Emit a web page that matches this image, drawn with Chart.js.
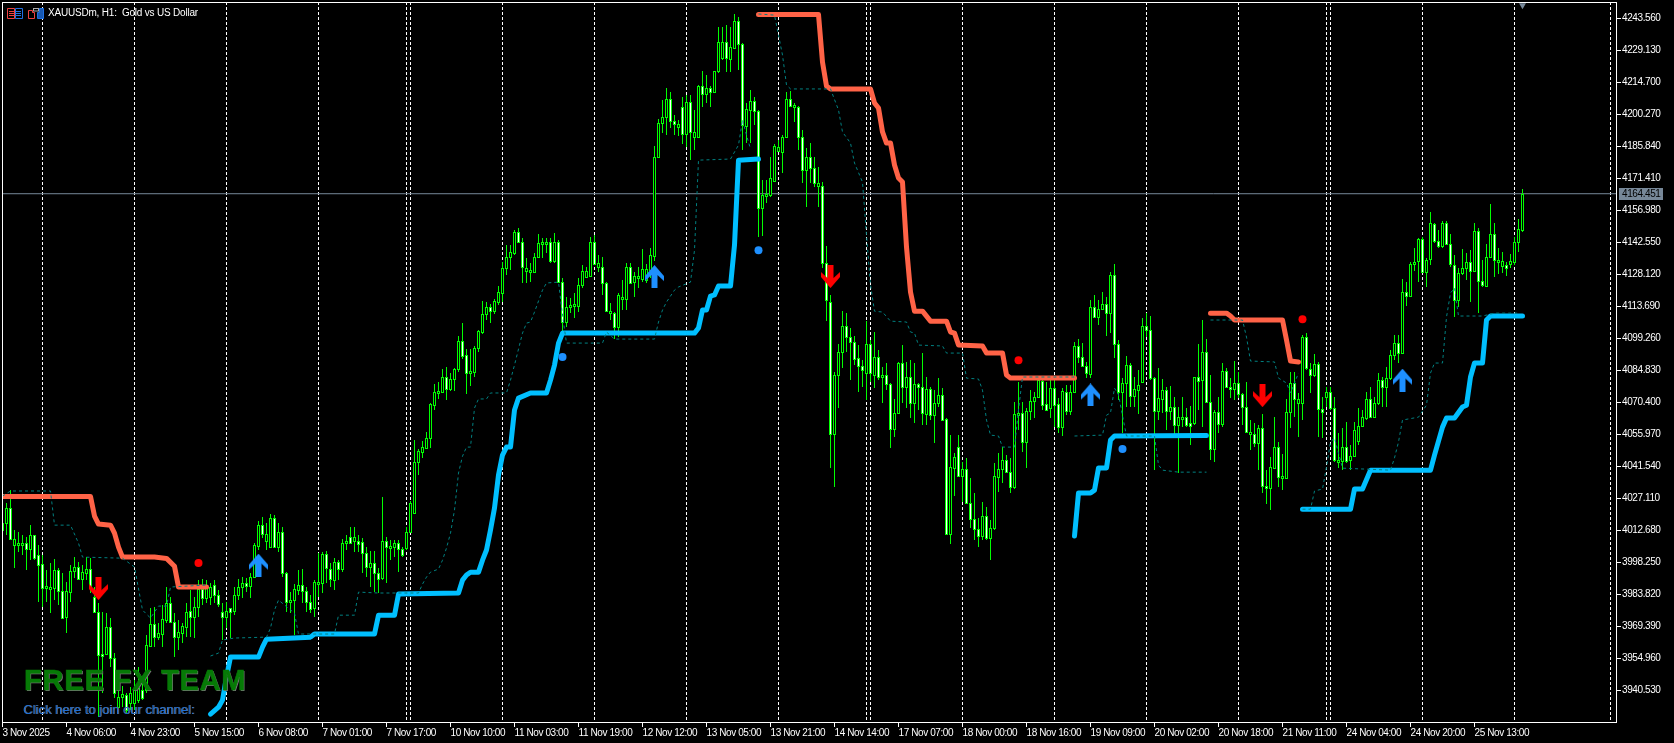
<!DOCTYPE html>
<html>
<head>
<meta charset="utf-8">
<title>XAUUSDm, H1: Gold vs US Dollar</title>
<script src="https://cdn.jsdelivr.net/npm/chart.js@4/dist/chart.umd.min.js"></script>
<style>
    html, body { margin: 0; padding: 0; background: #000; overflow: hidden; }
    #wrap { position: relative; width: 1674px; height: 743px; }
    #chart { position: absolute; left: 0; top: 0; }
    .icon { position: absolute; top: 8px; }
    #title { position: absolute; left: 48px; top: 7px; color: #fff; font: 10px "Liberation Sans", sans-serif; letter-spacing: -0.2px; white-space: pre; }
    #brand { position: absolute; left: 24px; top: 664px; color: #067a06; font: bold 29px "Liberation Sans", sans-serif; letter-spacing: 0.8px; white-space: pre; text-shadow: 1px 1px 0 #777; -webkit-text-stroke: 0.6px #067a06; }
    #link { position: absolute; left: 23px; top: 702px; color: #1e6fd6; font: 13px "Liberation Sans", sans-serif; white-space: pre; text-shadow: 1px 0 0 #666; }
</style>
</head>
<body>
<div id="wrap">
    <canvas id="chart" width="1674" height="743"></canvas>
    <svg class="icon" style="left:7px" width="16" height="11" fill="none">
        <path d="M.5.5h7v10h-7zM2 3.5h5M2 5.5h5M2 7.5h5" stroke="#f04040"/>
        <path d="M8.5.5h7v10h-7zM9 3.5h5M9 5.5h5M9 7.5h5" stroke="#2070e0"/>
    </svg>
    <svg class="icon" style="left:28px" width="16" height="11" fill="none">
        <path d="M.5 2.5h4v2h2v6h-6z" stroke="#f04040"/>
        <path d="M15.5.5v10h-6v-6h2v-4z" stroke="#2070e0" fill="#1858b0"/>
        <rect x="5.5" y=".5" width="5" height="2.5" stroke="#aaa"/>
    </svg>
    <div id="title">XAUUSDm, H1:  Gold vs US Dollar</div>
    <div id="brand">FREE FX TEAM</div>
    <div id="link">Click here to join our channel:</div>
</div>

<script>
// ── Candles (bar 0 = 3 Nov 2025 00:00) ───────────────────────────────────────
const opens = [
    4012.8,4015.9,4022.7,4006.0,4006.5,4006.0,4006.9,4004.2,4010.5,4001.5,
    3997.4,3986.6,3986.6,3986.6,3994.7,3985.3,3973.5,3984.8,3994.3,3996.1,
    3990.7,3993.4,3995.2,3982.6,3975.8,3956.8,3956.8,3969.0,3955.0,3932.9,
    3937.5,3938.4,3934.7,3934.7,3936.1,3940.6,3940.6,3960.5,3970.4,3964.5,
    3965.9,3972.2,3979.8,3971.3,3964.5,3966.3,3969.0,3976.2,3973.5,3978.0,
    3986.2,3982.1,3982.6,3988.0,3983.5,3975.8,3973.5,3977.6,3976.2,3983.5,
    3987.1,3988.9,3987.5,3991.6,4005.6,4015.0,4007.8,4005.1,4018.2,4005.1,
    4011.9,3993.4,3980.3,3981.2,3985.7,3988.0,3985.3,3980.3,3977.6,3988.4,
    3988.9,4001.9,3995.2,3990.2,3998.3,3995.2,4006.9,4009.6,4007.8,4007.8,
    4007.4,4002.4,3996.1,3997.9,3993.4,3991.1,4007.8,4005.1,4005.1,4006.9,
    4004.2,4004.7,4011.9,4020.4,4043.4,4047.9,4049.8,4054.3,4069.1,4074.6,
    4075.0,4081.8,4076.4,4080.9,4085.4,4098.0,4091.7,4083.6,4084.0,4094.8,
    4102.1,4110.2,4113.3,4111.5,4115.6,4119.7,4130.9,4135.9,4137.7,4147.2,
    4142.7,4129.6,4129.1,4129.1,4135.9,4141.8,4141.8,4142.7,4134.1,4142.7,
    4124.6,4106.6,4113.3,4114.2,4113.8,4123.3,4126.9,4127.3,4142.7,4131.4,
    4131.4,4124.2,4110.6,4110.6,4104.3,4116.9,4116.9,4131.4,4124.6,4126.4,
    4126.0,4125.5,4130.0,4136.3,4181.0,4196.3,4199.0,4207.2,4197.2,4194.5,
    4203.5,4191.4,4205.8,4190.0,4190.0,4213.0,4209.4,4212.1,4210.3,4219.8,
    4225.6,4232.9,4225.2,4230.2,4242.3,4232.0,4195.0,4202.2,4206.2,4201.7,
    4158.0,4163.9,4163.9,4170.2,4183.7,4183.2,4190.0,4207.2,4203.5,4203.5,
    4190.0,4175.1,4181.0,4176.0,4167.9,4167.9,4133.2,4115.6,4056.1,4082.7,
    4093.0,4104.8,4099.8,4097.6,4090.3,4086.7,4083.6,4096.7,4082.7,4090.8,
    4081.8,4082.7,4078.6,4058.3,4065.5,4088.1,4077.3,4081.8,4070.0,4078.6,
    4077.3,4065.1,4076.4,4064.6,4070.0,4073.7,4062.8,4011.0,4040.7,4050.2,
    4037.1,4040.3,4024.9,4017.7,4013.2,4010.1,4019.1,4009.2,4013.7,4036.7,
    4040.3,4044.3,4038.9,4032.2,4065.1,4065.5,4052.5,4066.4,4071.0,4072.8,
    4080.0,4069.6,4067.8,4076.8,4069.6,4059.2,4075.0,4066.4,4075.0,4095.8,
    4090.8,4086.7,4083.1,4113.3,4108.8,4112.4,4114.7,4110.6,4127.8,4096.7,
    4075.0,4079.1,4087.2,4073.2,4075.9,4079.5,4104.8,4103.0,4081.3,4066.4,
    4071.9,4075.9,4066.4,4068.2,4060.1,4063.3,4063.7,4061.0,4061.0,4081.8,
    4080.4,4093.0,4070.5,4049.3,4066.0,4060.6,4084.5,4077.3,4076.4,4079.1,
    4074.1,4068.2,4056.5,4056.1,4052.0,4058.8,4032.6,4031.7,4040.7,4050.2,
    4036.2,4036.2,4066.0,4079.1,4070.0,4070.0,4099.8,4085.4,4082.7,4087.6,
    4067.3,4072.8,4075.0,4067.8,4043.4,4043.9,4050.2,4044.3,4046.1,4052.9,
    4059.7,4063.3,4071.9,4063.7,4070.0,4080.4,4077.3,4081.3,4091.7,4097.1,
    4092.6,4120.1,4118.3,4132.7,4134.1,4144.0,4129.1,4135.0,4150.8,4143.1,
    4140.9,4151.2,4141.8,4132.3,4116.5,4128.7,4130.9,4133.6,4129.6,4147.6,
    4125.1,4122.8,4135.9,4146.3,4134.1,4131.8,4132.3,4132.7,4133.6,4142.7,4148.1
];
const highs = [
    4019.5,4024.9,4030.8,4012.8,4011.9,4010.5,4009.6,4015.0,4010.5,4006.0,
    4001.5,3994.7,3997.9,3999.7,3995.6,3993.4,3989.3,3997.0,4000.6,3998.3,
    3997.0,4000.6,4000.1,3987.1,3979.8,3975.8,3975.3,3973.1,3957.3,3942.4,
    3942.4,3939.3,3942.0,3945.1,3951.0,3945.1,3965.4,3977.6,3978.0,3970.8,
    3978.9,3987.1,3982.6,3975.3,3972.2,3970.8,3979.8,3985.7,3982.6,3990.2,
    3990.7,3990.2,3988.9,3990.2,3985.7,3979.8,3980.3,3977.6,3987.1,3990.7,
    3991.6,3991.1,3993.4,4006.9,4016.8,4018.6,4015.9,4020.0,4019.5,4015.9,
    4014.1,3993.8,3984.8,3988.4,3994.7,3995.2,3987.1,3983.5,3990.2,4002.4,
    4002.8,4003.3,3997.9,4000.1,3999.2,4008.7,4010.5,4014.1,4014.1,4010.5,
    4009.2,4005.1,4003.3,4003.3,3995.6,4027.6,4009.6,4008.3,4008.3,4008.3,
    4005.1,4014.1,4025.8,4053.4,4049.3,4052.9,4057.0,4070.0,4078.6,4079.5,
    4085.4,4086.3,4083.6,4085.8,4100.3,4106.1,4094.4,4094.4,4095.8,4103.0,
    4116.0,4115.6,4114.7,4116.9,4122.8,4133.6,4141.3,4141.3,4148.1,4149.0,
    4144.5,4135.4,4133.2,4137.7,4146.3,4144.5,4144.5,4144.5,4146.7,4143.6,
    4126.4,4117.9,4117.4,4119.7,4126.4,4132.3,4131.4,4145.0,4145.8,4136.8,
    4135.9,4124.6,4115.1,4111.1,4119.7,4125.5,4133.2,4133.2,4129.1,4131.4,
    4139.5,4132.7,4140.0,4186.0,4198.1,4206.7,4212.1,4210.3,4199.9,4197.7,
    4208.0,4209.0,4209.0,4202.2,4213.5,4219.8,4218.0,4213.0,4219.8,4239.6,
    4239.6,4240.5,4239.6,4245.5,4244.1,4232.4,4205.3,4211.2,4208.0,4202.2,
    4170.6,4170.6,4181.0,4186.9,4188.7,4190.9,4210.3,4210.8,4205.3,4204.0,
    4193.2,4185.1,4187.3,4181.0,4176.5,4169.7,4140.9,4118.8,4084.0,4096.7,
    4111.5,4110.6,4103.9,4100.3,4096.2,4089.4,4107.0,4098.5,4102.1,4094.0,
    4086.3,4088.1,4079.1,4071.9,4088.5,4096.2,4088.5,4089.4,4088.1,4079.1,
    4092.6,4081.8,4077.3,4075.9,4081.3,4076.8,4063.3,4055.6,4047.5,4055.6,
    4043.4,4045.2,4036.2,4029.5,4018.2,4025.4,4023.1,4017.3,4043.0,4047.5,
    4050.2,4046.6,4045.2,4070.5,4079.5,4070.5,4067.8,4075.9,4075.0,4081.3,
    4081.3,4079.5,4080.4,4080.4,4072.3,4076.8,4078.2,4078.2,4097.6,4098.9,
    4097.1,4088.5,4116.5,4118.8,4116.5,4120.1,4117.9,4129.1,4132.7,4098.5,
    4081.3,4091.2,4088.1,4081.8,4084.9,4108.4,4110.6,4109.3,4081.8,4085.8,
    4080.9,4077.3,4077.7,4072.8,4068.2,4072.8,4067.8,4068.7,4081.8,4096.7,
    4107.5,4098.9,4082.7,4066.9,4072.8,4088.1,4085.8,4081.3,4089.0,4084.0,
    4074.6,4079.5,4062.4,4061.0,4060.1,4065.1,4039.8,4045.7,4063.7,4052.5,
    4047.0,4071.9,4084.0,4084.0,4074.6,4100.7,4101.6,4088.1,4092.1,4088.5,
    4072.8,4077.3,4077.3,4072.8,4056.5,4058.8,4061.5,4051.1,4061.5,4067.8,
    4066.9,4075.0,4077.3,4072.8,4083.6,4081.8,4086.3,4094.0,4100.7,4100.7,
    4126.0,4124.6,4133.6,4140.0,4144.5,4145.0,4135.4,4156.2,4151.2,4148.1,
    4152.1,4152.1,4146.3,4136.8,4130.9,4139.5,4137.7,4139.0,4151.2,4149.0,
    4134.5,4141.8,4159.8,4151.2,4140.0,4138.1,4133.6,4137.2,4145.0,4153.0,4166.6
];
const lows = [
    4010.5,4010.5,4008.7,3995.6,4002.8,4001.5,3994.7,3999.2,3999.2,3980.3,
    3978.0,3980.3,3975.3,3981.2,3978.9,3973.1,3966.3,3980.3,3991.1,3990.2,
    3985.7,3990.2,3984.4,3975.3,3928.4,3939.3,3956.4,3951.0,3937.0,3931.6,
    3932.9,3930.2,3931.6,3931.6,3934.7,3936.1,3939.3,3960.0,3960.0,3963.2,
    3960.0,3970.8,3970.8,3955.5,3958.6,3961.8,3964.5,3964.5,3964.1,3973.5,
    3978.9,3979.8,3978.9,3979.8,3978.0,3963.2,3968.6,3964.1,3974.4,3981.2,
    3982.1,3984.8,3982.1,3991.1,4003.8,4009.2,4003.8,4004.7,4004.7,4002.8,
    3991.6,3975.8,3975.3,3965.4,3983.5,3979.8,3975.8,3975.3,3973.5,3982.6,
    3984.4,3988.9,3987.1,3985.7,3990.2,3993.8,4003.8,4006.9,4002.8,4002.8,
    3993.4,3991.6,3987.1,3984.8,3984.4,3990.2,3988.9,3999.2,4000.6,3993.8,
    4000.6,4003.8,4011.4,4020.0,4037.6,4045.2,4049.8,4049.8,4066.9,4071.9,
    4074.6,4071.4,4075.5,4075.5,4084.0,4089.9,4074.1,4077.7,4081.8,4093.0,
    4101.2,4107.5,4106.1,4110.2,4114.2,4115.6,4127.8,4130.0,4136.8,4142.2,
    4124.2,4124.2,4124.6,4128.7,4135.4,4135.4,4137.7,4133.2,4133.2,4124.2,
    4102.1,4104.3,4110.6,4108.4,4111.1,4121.9,4126.4,4126.9,4132.3,4129.1,
    4118.8,4111.1,4107.5,4098.9,4099.8,4112.0,4112.0,4124.2,4117.9,4121.9,
    4124.6,4124.2,4126.4,4134.1,4180.5,4191.8,4190.9,4194.1,4190.9,4190.5,
    4186.9,4185.5,4179.6,4184.2,4190.0,4203.5,4205.3,4203.5,4209.9,4218.9,
    4224.7,4219.3,4219.3,4230.2,4220.2,4184.2,4187.3,4187.3,4195.4,4144.9,
    4145.4,4160.2,4163.0,4169.7,4183.2,4173.8,4190.0,4203.5,4196.8,4184.2,
    4169.3,4158.4,4169.3,4167.5,4158.4,4130.9,4107.0,4040.7,4032.2,4067.8,
    4085.8,4093.0,4080.4,4087.2,4075.0,4077.3,4071.4,4079.5,4076.8,4080.4,
    4070.0,4075.9,4049.8,4054.7,4065.5,4070.0,4067.8,4063.3,4061.0,4066.9,
    4060.1,4060.1,4062.4,4052.0,4068.2,4061.9,4010.5,4006.5,4028.1,4036.7,
    4025.4,4024.5,4013.7,4008.3,4005.1,4008.3,4008.3,3999.2,4012.8,4029.9,
    4034.0,4038.5,4029.5,4031.3,4057.9,4047.9,4040.7,4062.4,4063.3,4072.3,
    4066.9,4066.4,4063.3,4059.2,4056.5,4055.2,4064.6,4064.6,4074.6,4088.1,
    4086.3,4081.3,4081.3,4108.4,4105.2,4112.0,4100.3,4101.6,4090.3,4071.4,
    4056.5,4068.2,4068.2,4068.2,4065.1,4079.5,4099.8,4080.4,4039.8,4062.4,
    4065.5,4057.9,4062.4,4054.3,4038.5,4059.2,4059.2,4051.1,4060.1,4066.9,
    4059.2,4070.0,4044.3,4043.4,4056.5,4059.2,4076.8,4072.3,4071.4,4072.3,
    4060.1,4056.5,4048.8,4050.2,4039.8,4029.5,4024.5,4021.8,4040.7,4032.2,
    4030.8,4036.2,4058.8,4063.7,4054.7,4062.4,4084.9,4074.6,4081.8,4054.7,
    4054.3,4068.2,4066.9,4043.4,4040.7,4039.8,4043.0,4039.8,4045.7,4051.1,
    4059.2,4062.4,4063.3,4063.3,4069.1,4068.2,4068.2,4080.4,4089.4,4088.1,
    4092.1,4113.8,4117.9,4129.6,4124.6,4128.7,4122.4,4132.3,4142.2,4140.0,
    4140.0,4141.3,4131.4,4108.8,4113.3,4127.8,4125.5,4115.6,4129.1,4110.6,
    4122.4,4122.4,4135.9,4126.9,4128.2,4128.7,4127.3,4130.9,4132.3,4138.1,4147.2
];
const closes = [
    4015.9,4022.7,4008.7,4008.7,4006.9,4006.9,4004.2,4010.5,4000.1,3997.0,
    3986.6,3987.5,3987.1,3994.7,3985.3,3973.1,3985.3,3994.3,3996.1,3990.7,
    3993.8,3995.2,3987.1,3975.8,3956.4,3955.9,3969.0,3955.0,3939.3,3937.5,
    3938.8,3931.6,3939.3,3940.6,3941.5,3937.0,3960.9,3970.4,3964.5,3966.3,
    3972.6,3979.8,3971.3,3964.5,3966.8,3969.5,3975.8,3973.5,3978.0,3986.2,
    3982.1,3986.6,3987.1,3983.5,3979.4,3973.5,3976.2,3975.8,3983.5,3987.1,
    3988.9,3987.5,3991.6,4006.0,4015.0,4011.0,4011.0,4018.2,4005.1,4011.9,
    3993.4,3980.3,3981.2,3986.2,3988.0,3985.3,3980.3,3977.1,3989.3,3989.3,
    4001.9,3995.6,3990.7,3998.3,3995.2,4006.9,4007.8,4006.9,4009.6,4006.5,
    4002.4,3996.1,3997.9,3993.4,3990.7,4007.8,4005.1,4005.6,4006.9,4004.2,
    4001.5,4011.9,4024.9,4043.4,4048.4,4050.2,4054.3,4069.6,4075.0,4075.5,
    4081.8,4076.4,4080.9,4085.4,4098.0,4091.2,4083.6,4084.5,4094.8,4102.5,
    4110.2,4113.3,4111.5,4116.0,4120.1,4130.9,4135.9,4138.1,4147.2,4142.7,
    4131.4,4130.9,4130.0,4135.9,4142.2,4142.7,4142.7,4134.1,4142.7,4124.6,
    4106.6,4113.3,4114.2,4114.7,4123.3,4129.6,4129.6,4142.7,4132.7,4133.2,
    4124.2,4111.5,4111.5,4104.3,4118.8,4117.9,4131.4,4124.2,4127.3,4127.3,
    4130.5,4130.5,4136.8,4181.0,4196.3,4199.0,4207.2,4197.2,4195.9,4195.9,
    4191.4,4205.8,4192.3,4192.3,4213.0,4209.4,4212.1,4210.3,4219.8,4232.9,
    4232.9,4225.6,4230.6,4242.3,4232.0,4195.4,4202.6,4206.2,4201.7,4158.0,
    4163.9,4164.3,4171.5,4186.0,4185.5,4190.0,4207.2,4204.0,4204.4,4190.0,
    4175.1,4181.0,4176.0,4169.3,4169.3,4133.2,4116.5,4056.1,4082.7,4093.0,
    4104.8,4099.8,4097.6,4089.9,4086.7,4084.9,4096.7,4083.6,4090.8,4081.8,
    4082.7,4078.6,4058.3,4065.5,4088.1,4077.3,4081.8,4070.0,4078.6,4077.3,
    4065.5,4076.4,4064.6,4070.0,4073.7,4062.4,4011.0,4041.2,4045.7,4037.1,
    4040.3,4024.9,4017.7,4013.2,4010.1,4019.1,4009.2,4013.7,4037.1,4040.3,
    4044.3,4038.9,4032.2,4065.1,4065.5,4052.5,4066.4,4071.0,4072.8,4080.4,
    4069.1,4066.9,4076.8,4069.1,4059.2,4075.5,4066.4,4075.0,4095.8,4090.8,
    4086.7,4083.6,4113.3,4108.8,4112.4,4114.7,4110.6,4127.8,4096.7,4075.0,
    4079.1,4087.2,4073.2,4076.4,4078.2,4104.8,4103.0,4081.3,4066.4,4072.3,
    4075.9,4066.4,4068.2,4060.1,4063.7,4063.7,4060.1,4059.7,4081.8,4080.0,
    4093.0,4070.5,4049.3,4066.0,4060.6,4084.5,4077.3,4076.8,4079.1,4074.1,
    4068.2,4057.0,4057.0,4052.0,4058.8,4032.6,4031.7,4041.2,4050.2,4036.7,
    4037.1,4066.0,4079.1,4071.9,4071.9,4099.8,4085.8,4082.7,4087.6,4067.3,
    4066.0,4075.0,4067.8,4044.3,4044.3,4050.2,4043.9,4046.1,4057.9,4059.7,
    4063.7,4071.9,4063.7,4070.0,4080.4,4077.3,4081.3,4091.7,4097.1,4092.6,
    4120.1,4118.3,4132.7,4133.6,4144.0,4129.1,4134.5,4151.2,4143.1,4140.9,
    4151.2,4141.8,4132.7,4116.5,4128.7,4130.9,4133.6,4129.6,4147.6,4125.1,
    4123.3,4135.9,4146.3,4134.5,4134.5,4134.1,4130.9,4134.1,4142.7,4148.5,4164.451
];

// ── Indicator lines ──────────────────────────
const redLineBars = [0,22,23,24,27,28,29,30,38,41,43,44,51,null,
    189,204,205,206,207,217,218,219,220,221,222,223,224,225,226,227,228,230,232,236,237,238,239,245,246,250,251,252,268,null,
    302,306,307,308,320,321,322,324];
const redLineValues = [4027.9,4027.9,4019.1,4015.5,4015.0,4011.4,4005.1,4000.6,4000.6,4000.0,3996.5,3987.1,3987.1,null,
    4245.3,4245.3,4223.8,4213.0,4211.7,4211.7,4205.4,4203.1,4192.3,4187.3,4187.3,4177.4,4171.5,4169.7,4140.4,4120.1,4111.5,4111.5,4107.0,4107.0,4102.1,4101.6,4096.2,4095.8,4092.6,4092.6,4082.7,4081.3,4081.3,null,
    4110.6,4110.6,4109.3,4107.5,4107.5,4098.5,4089.0,4088.6];

const blueLineBars = [52,54,55,56,57,64,65,66,77,78,93,94,98,99,114,115,116,117,119,120,121,122,123,124,125,126,127,128,129,132,136,137,138,139,140,173,174,175,176,177,178,179,182,183,184,189,null,
    268,269,272,273,274,276,277,278,301,null,
    325,337,338,340,342,357,358,360,361,363,365,366,367,368,370,371,372,380];
const blueLineValues = [3929.8,3932.9,3936.1,3946.5,3955.5,3955.5,3960.0,3963.6,3964.5,3965.9,3965.9,3974.4,3974.4,3983.9,3984.4,3990.2,3992.5,3993.8,3993.8,3999.2,4003.8,4012.8,4022.7,4037.6,4046.6,4050.2,4050.2,4066.9,4072.3,4074.6,4074.6,4080.4,4087.2,4097.1,4101.6,4101.6,4103.9,4112.0,4112.0,4118.3,4118.8,4122.8,4122.8,4141.3,4179.6,4180.1,null,
    4010.1,4029.5,4029.5,4030.8,4040.8,4040.8,4053.4,4055.2,4055.4,null,
    4022.2,4022.2,4031.3,4031.3,4039.8,4039.8,4046.6,4059.2,4063.3,4063.3,4068.3,4069.1,4081.8,4088.1,4088.1,4107.5,4109.3,4109.3];

const tealBars = [0,2,12,13,17,19,20,30,33,35,37,39,41,42,51,null,
    52,54,55,58,66,67,68,69,73,74,83,84,88,89,94,104,105,106,107,109,110,111,112,113,114,115,116,117,118,119,121,122,126,127,128,130,131,132,133,135,136,139,140,141,150,151,153,163,164,165,166,168,169,172,173,174,182,184,185,186,187,null,
    189,193,195,196,197,207,209,210,212,213,215,216,217,218,220,222,226,227,228,229,235,236,240,241,244,245,246,247,249,250,253,254,255,268,null,
    268,275,276,277,278,279,281,288,289,290,294,301,null,
    302,310,311,312,318,319,321,322,324,null,
    325,327,328,330,331,332,333,335,347,348,349,350,354,356,357,358,360,361,362,363,364,370,373,379];
const tealValues = [4028.1,4030.4,4030.4,4015.0,4015.0,4006.9,4000.6,4000.1,3996.1,3976.7,3973.1,3978.5,3978.5,3987.1,3988.0,null,
    3956.0,3957.3,3963.2,3964.1,3964.5,3968.6,3976.7,3981.2,3975.3,3965.9,3965.9,3974.4,3974.4,3984.8,3984.4,3984.4,3988.4,3991.6,3993.8,3995.2,3999.2,4004.7,4011.4,4021.8,4038.5,4046.1,4050.2,4050.2,4067.8,4071.9,4071.9,4074.6,4074.6,4080.4,4087.2,4101.6,4106.1,4106.6,4111.1,4121.0,4124.2,4124.6,4109.7,4097.1,4097.1,4102.1,4098.9,4098.9,4106.6,4112.0,4115.6,4121.0,4122.4,4124.6,4139.0,4179.6,4180.1,4186.4,4197.7,4190.9,4184.6,null,
    4245.5,4245.0,4227.0,4213.5,4211.7,4211.7,4202.2,4192.3,4187.3,4178.3,4169.7,4145.8,4123.3,4111.5,4111.1,4107.0,4106.6,4102.1,4101.6,4096.2,4095.8,4092.6,4092.6,4081.3,4080.9,4075.9,4062.4,4055.6,4055.2,4050.2,4050.2,4066.9,4081.8,4081.8,null,
    4055.2,4055.6,4064.6,4065.6,4076.8,4073.7,4055.2,4055.2,4042.1,4039.8,4038.9,4038.9,null,
    4107.5,4107.5,4099.8,4089.0,4088.6,4081.3,4079.1,4074.6,4083.6,null,
    4022.2,4022.2,4030.4,4031.3,4041.2,4052.5,4054.3,4040.7,4039.8,4045.3,4052.5,4062.4,4063.7,4069.1,4083.6,4088.1,4088.1,4108.8,4119.7,4121.9,4109.3,4109.3,4110.6,4110.6];

// ── Signals ──────────────────────────────────
const sellArrowBars = [24,207,315];
const sellArrowValues = [3986.4,4127.1,4073.4];
const buyArrowBars = [64,163,272,350];
const buyArrowValues = [3997.0,4127.1,4073.7,4080.4];
const redDotBars = [49,254,325];
const redDotValues = [3997.9,4089.4,4107.9];
const blueDotBars = [140,189,280];
const blueDotValues = [4090.8,4139.0,4049.3];

// ── Axes ─────────────────────────────────────
const lastPrice = 4164.451;
const priceTicks = [4243.56,4229.13,4214.70,4200.27,4185.84,4171.41,4156.98,4142.55,4128.12,4113.69,4099.26,4084.83,4070.40,4055.97,4041.54,4027.11,4012.68,3998.25,3983.82,3969.39,3954.96,3940.53];
const timeTickBars = [0,16,32,48,64,80,96,112,128,144,160,176,192,208,224,240,256,272,288,304,320,336,352,368];
const timeLabels = ['3 Nov 2025','4 Nov 06:00','4 Nov 23:00','5 Nov 15:00','6 Nov 08:00','7 Nov 01:00','7 Nov 17:00','10 Nov 10:00','11 Nov 03:00','11 Nov 19:00','12 Nov 12:00','13 Nov 05:00','13 Nov 21:00','14 Nov 14:00','17 Nov 07:00','18 Nov 00:00','18 Nov 16:00','19 Nov 09:00','20 Nov 02:00','20 Nov 18:00','21 Nov 11:00','24 Nov 04:00','24 Nov 20:00','25 Nov 13:00'];
const gridBars = [10,33,56,79,101,102,125,148,171,194,216,217,240,263,286,309,331,332,355,378,402];

const X_MIN = -0.125, X_MAX = 403.625;
const Y_MIN = 3925.78, Y_MAX = 4250.91;
const FONT = { family: '"Liberation Sans", sans-serif', size: 10 };

// ── Helpers ──────────────────────────────────
function points(bars, values) {
    return bars.map((b, i) => ({ x: b === null ? NaN : b, y: values[i] }));
}

function arrowImage(color, up) {
    const c = document.createElement('canvas');
    c.width = 19; c.height = 23;
    const g = c.getContext('2d');
    if (!up) { g.translate(0, 23); g.scale(1, -1); }
    g.fillStyle = color;
    g.beginPath();
    [[9.5,0],[19,11],[19,16],[12.5,10],[12.5,23],[6.5,23],[6.5,10],[0,16],[0,11]].forEach(([x, y], i) => {
        if (i) g.lineTo(x, y); else g.moveTo(x, y);
    });
    g.closePath();
    g.fill();
    return c;
}

function marks(bars, values, opts) {
    return Object.assign({ type: 'line', showLine: false, order: 1, data: points(bars, values) }, opts);
}

// the scale asks for room around its edge labels, the plot has to stay flush
function noPadding(s) {
    s.paddingTop = s.paddingBottom = s.paddingLeft = s.paddingRight = 0;
}

// y pixels are rounded so bodies and wicks stay crisp like the terminal draws them
const snapCandles = {
    id: 'snapCandles',
    afterDatasetsUpdate(chart) {
        [0, 1].forEach(idx => {
            chart.getDatasetMeta(idx).data.forEach(el => {
                const top = Math.round(Math.min(el.y, el.base));
                const bottom = Math.round(Math.max(el.y, el.base));
                el.y = top;
                el.base = idx === 1 ? Math.max(bottom + 1, top + 3) : bottom;
            });
        });
    },
    beforeDraw(chart) { chart.ctx.letterSpacing = '-0.4px'; },
};

const frame = {
    id: 'frame',
    afterDraw(chart) {
        const { ctx, chartArea: a, scales } = chart;
        ctx.save();
        ctx.strokeStyle = '#fff';
        ctx.lineWidth = 1;
        ctx.strokeRect(a.left + 0.5, a.top + 0.5, a.width - 1, a.height - 1);
        // last price tag on the axis
        const y = Math.round(scales.y.getPixelForValue(lastPrice));
        ctx.fillStyle = '#778899';
        ctx.fillRect(a.right + 2, y - 6, 44, 12);
        ctx.fillStyle = '#000';
        ctx.font = `${FONT.size}px ${FONT.family}`;
        ctx.textBaseline = 'middle';
        ctx.fillText(lastPrice.toFixed(3), a.right + 5, y + 0.5);
        ctx.restore();
    },
};

// ── Chart ────────────────────────────────────
new Chart(document.getElementById('chart'), {
    type: 'bar',
    plugins: [snapCandles, frame],
    data: {
        datasets: [
            {
                label: 'wicks', order: 8, grouped: false, barThickness: 1,
                data: highs.map((h, i) => ({ x: i, y: [lows[i], h] })),
                backgroundColor: '#00ff00', borderWidth: 0, inflateAmount: 0,
            },
            {
                label: 'bodies', order: 7, grouped: false, barThickness: 3,
                data: opens.map((o, i) => ({ x: i, y: [o, closes[i]] })),
                backgroundColor: opens.map((o, i) => (closes[i] < o ? '#ffffff' : '#000000')),
                borderColor: '#00ff00', borderWidth: 1, borderSkipped: false, inflateAmount: 0,
            },
            {
                label: 'last price', type: 'line', order: 9,
                data: [{ x: X_MIN, y: lastPrice }, { x: X_MAX, y: lastPrice }],
                borderColor: '#778899', borderWidth: 1, pointRadius: 0,
            },
            {
                label: 'trail down', type: 'line', order: 4, data: points(redLineBars, redLineValues),
                borderColor: '#ff6347', borderWidth: 5, pointRadius: 0, borderJoinStyle: 'round', borderCapStyle: 'round',
            },
            {
                label: 'trail up', type: 'line', order: 4, data: points(blueLineBars, blueLineValues),
                borderColor: '#00bfff', borderWidth: 5, pointRadius: 0, borderJoinStyle: 'round', borderCapStyle: 'round',
            },
            {
                label: 'stop', type: 'line', order: 3, data: points(tealBars, tealValues),
                borderColor: '#008080', borderWidth: 1, borderDash: [3, 3], pointRadius: 0,
            },
            marks(sellArrowBars, sellArrowValues, { label: 'sell', pointStyle: arrowImage('#ff0000', false), pointRadius: 10 }),
            marks(buyArrowBars, buyArrowValues, { label: 'buy', pointStyle: arrowImage('#1e90ff', true), pointRadius: 10 }),
            marks(redDotBars, redDotValues, { label: 'sell dot', pointRadius: 4, backgroundColor: '#ff0000', borderWidth: 0 }),
            marks(blueDotBars, blueDotValues, { label: 'buy dot', pointRadius: 4, backgroundColor: '#1e90ff', borderWidth: 0 }),
            marks([380], [4249.4], { label: 'last bar', pointStyle: 'triangle', rotation: 180, pointRadius: 4, backgroundColor: '#778899', borderWidth: 0 }),
        ],
    },
    options: {
        responsive: false,
        animation: false,
        devicePixelRatio: 1,
        events: [],
        layout: { autoPadding: false, padding: { left: 2, top: 2 } },
        plugins: { legend: { display: false }, tooltip: { enabled: false } },
        scales: {
            x: {
                type: 'linear', position: 'bottom', min: X_MIN, max: X_MAX, offset: false,
                afterBuildTicks(s) { s.ticks = timeTickBars.map(v => ({ value: v })); },
                afterFit(s) { s.height = 20; noPadding(s); },
                grid: { drawOnChartArea: false, tickLength: 4, tickColor: '#fff', offset: false },
                border: { display: false },
                ticks: {
                    color: '#fff', font: FONT, align: 'start', padding: 0, autoSkip: false, maxRotation: 0, minRotation: 0,
                    callback: (v, i) => timeLabels[i],
                },
            },
            // only carries the dotted day separators
            xGrid: {
                type: 'linear', position: 'top', display: true, min: X_MIN, max: X_MAX, offset: false,
                afterBuildTicks(s) { s.ticks = gridBars.map(v => ({ value: v })); },
                afterFit(s) { s.height = 0; noPadding(s); },
                grid: { color: '#fff', lineWidth: 1, drawTicks: false, offset: false },
                border: { display: false, dash: [3, 2] },
                ticks: { display: false },
            },
            y: {
                type: 'linear', position: 'right', min: Y_MIN, max: Y_MAX, beginAtZero: false,
                afterBuildTicks(s) { s.ticks = priceTicks.map(v => ({ value: v })); },
                afterFit(s) { s.width = 57; noPadding(s); },
                grid: { drawOnChartArea: false, tickLength: 4, tickColor: '#fff' },
                border: { display: false },
                ticks: { color: '#fff', font: FONT, padding: 1, autoSkip: false, callback: v => v.toFixed(3) },
            },
        },
    },
});
</script>
</body>
</html>
